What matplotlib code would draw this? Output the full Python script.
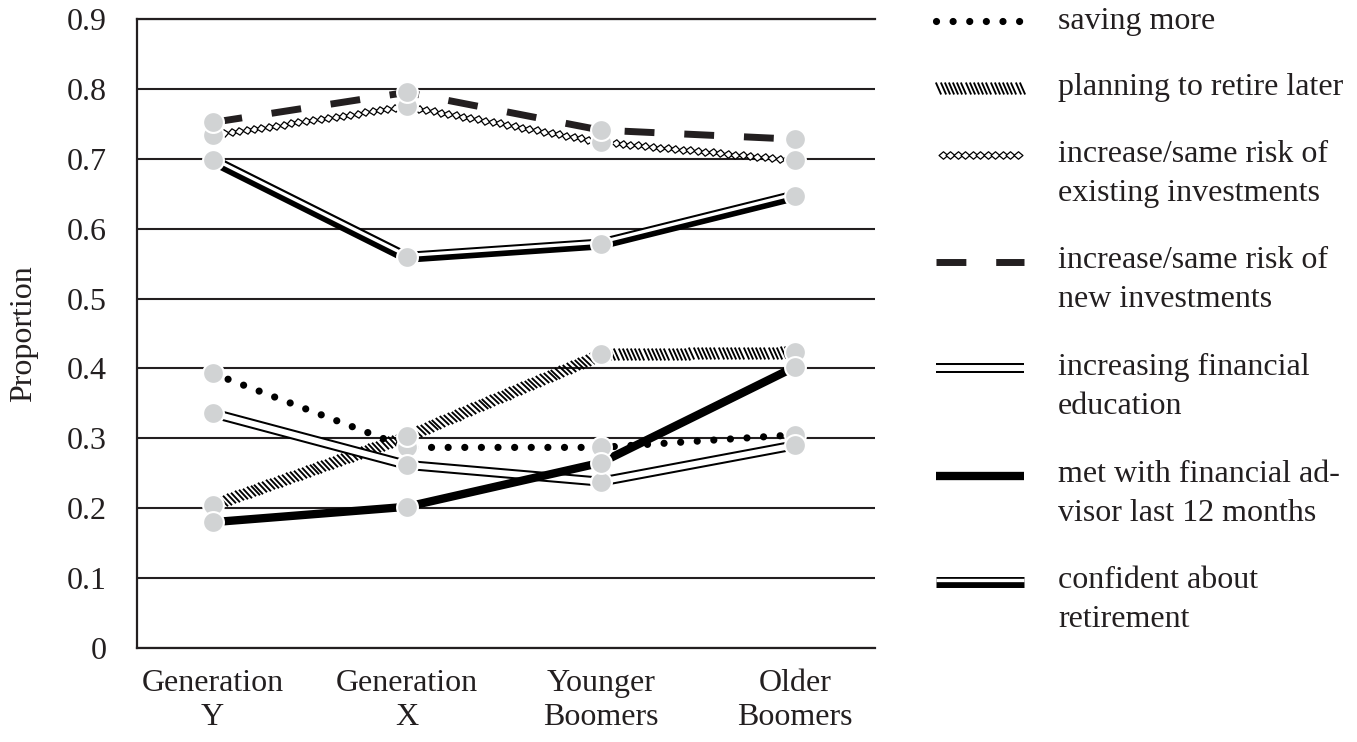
import numpy as np
import matplotlib
matplotlib.use('Agg')
import matplotlib.pyplot as plt
import matplotlib.patheffects as pe
from matplotlib.path import Path
from matplotlib.transforms import Affine2D, IdentityTransform
from matplotlib.lines import Line2D

plt.rcParams['font.family'] = ['Liberation Serif', 'DejaVu Serif']

groups = ['Generation\nY', 'Generation\nX', 'Younger\nBoomers', 'Older\nBoomers']
y_ticks = [0, 0.1, 0.2, 0.3, 0.4, 0.5, 0.6, 0.7, 0.8, 0.9]
y_tick_labels = ['0', '0.1', '0.2', '0.3', '0.4', '0.5', '0.6', '0.7', '0.8', '0.9']

saving_more = [0.393, 0.287, 0.287, 0.305]
retire_later = [0.205, 0.303, 0.420, 0.423]
risk_existing = [0.734, 0.775, 0.724, 0.698]
risk_new = [0.752, 0.795, 0.741, 0.728]
fin_education = [0.336, 0.262, 0.238, 0.290]
met_advisor = [0.180, 0.202, 0.265, 0.402]
confident = [0.698, 0.559, 0.578, 0.647]

labels = ['saving more', 'planning to retire later',
          'increase/same risk of\nexisting investments',
          'increase/same risk of\nnew investments',
          'increasing financial\neducation',
          'met with financial ad-\nvisor last 12 months',
          'confident about\nretirement']


class Chain(pe.AbstractPathEffect):
    # draws a small marker repeatedly along the path (hatch / diamond chain look)
    def __init__(self, marker, spacing, size, lw=1.0, face=None):
        super().__init__()
        self.marker = marker
        self.spacing = spacing
        self.size = size
        self.lw = lw
        self.face = face

    def draw_path(self, renderer, gc, tpath, affine, rgbFace=None):
        pts = affine.transform(tpath.vertices)
        gc0 = renderer.new_gc()
        gc0.copy_properties(gc)
        gc0.set_linewidth(self.lw)
        gc0.set_dashes(0, None)
        step = renderer.points_to_pixels(self.spacing)
        size = renderer.points_to_pixels(self.size)
        for a, b in zip(pts[:-1], pts[1:]):
            d = b - a
            L = np.hypot(d[0], d[1])
            n = int(L // step)
            if n < 1:
                continue
            off = (L - (n - 1) * step) / 2
            t = (off + np.arange(n) * step) / L
            pos = a + np.outer(t, d)
            ang = np.arctan2(d[1], d[0])
            mtrans = Affine2D().scale(size).rotate(ang)
            renderer.draw_markers(gc0, self.marker, mtrans, Path(pos),
                                  IdentityTransform(), self.face)
        gc0.restore()


slash = Path([(-0.22, 0.5), (0.22, -0.5)], [Path.MOVETO, Path.LINETO])
diamond = Path([(0.5, 0), (0, 0.42), (-0.5, 0), (0, -0.42), (0.5, 0)],
               [Path.MOVETO, Path.LINETO, Path.LINETO, Path.LINETO, Path.CLOSEPOLY])

styles = [
    dict(color='k', lw=5.2, ls=(0, (0.001, 2.3)), dash_capstyle='round'),
    dict(color='k', lw=1, path_effects=[Chain(slash, 3.0, 7.4, lw=1.35)]),
    dict(color='k', lw=1, path_effects=[Chain(diamond, 5.4, 6.4, lw=0.9, face=(1, 1, 1))]),
    dict(color='#231f20', lw=5.0, ls=(0, (4.3, 4.3)), dash_capstyle='butt'),
    dict(color='k', lw=7.2, solid_capstyle='butt',
         path_effects=[pe.Stroke(linewidth=7.2, foreground='k'),
                       pe.Stroke(linewidth=4.3, foreground='w')]),
    dict(color='k', lw=6.0, solid_capstyle='butt'),
    dict(color='k', lw=7.9, solid_capstyle='butt',
         path_effects=[pe.Stroke(linewidth=7.9, foreground='k'),
                       pe.Stroke(linewidth=2.4, foreground='w', offset=(0, 1.33))]),
]
series = [saving_more, retire_later, risk_existing, risk_new,
          fin_education, met_advisor, confident]

fig = plt.figure(figsize=(13.57, 7.42), dpi=100)
ax = fig.add_axes([0.101, 0.1267, 0.544, 0.8477])

x = np.arange(len(groups))
for vals, st in zip(series, styles):
    ax.plot(x, vals, zorder=3, **st)
for vals in series:
    ax.plot(x, vals, ls='none', marker='o', ms=15, mfc='#d1d3d4',
            mec='white', mew=1.5, zorder=5)

ax.set_xlim(-0.389, 3.415)
ax.set_ylim(0, 0.9)
ax.set_yticks(y_ticks)
ax.set_yticklabels(y_tick_labels)
ax.set_xticks(x)
ax.set_xticklabels(groups, linespacing=1.25)
ax.tick_params(axis='both', length=0, labelsize=23, colors='#231f20')
ax.tick_params(axis='y', pad=22)
ax.tick_params(axis='x', pad=15)
ax.grid(axis='y', color='#231f20', lw=1.5)
ax.set_axisbelow(True)
for s in ['left', 'bottom', 'top']:
    ax.spines[s].set_linewidth(1.6)
    ax.spines[s].set_color('#231f20')
ax.spines['right'].set_visible(False)
ax.set_ylabel('Proportion', fontsize=23, color='#231f20')
ax.yaxis.set_label_coords(-0.134, 0.5)

# legend drawn by hand so the handles sit at the first text line
W, H = 1357, 742
hy = [20.7, 88, 155, 262, 368, 476, 582]
by = [29, 95, 162, 268, 375, 482, 588]
for lab, st, yh, yb in zip(labels, styles, hy, by):
    ln = Line2D([936 / W, 1024 / W], [1 - yh / H, 1 - yh / H],
                transform=fig.transFigure, **st)
    ln.set_clip_on(False)
    fig.add_artist(ln)
    for i, part in enumerate(lab.split('\n')):
        fig.text(1058 / W, 1 - (yb + i * 39) / H, part, fontsize=23,
                 va='baseline', ha='left', color='#231f20')

fig.savefig('out.png', dpi=100)
